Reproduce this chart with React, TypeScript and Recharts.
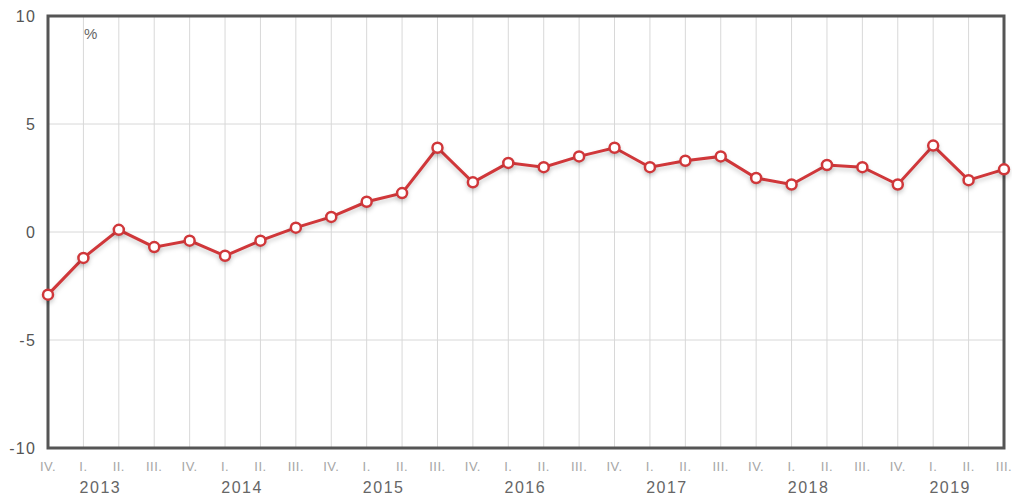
import React from 'react';
import { LineChart, Line, XAxis, YAxis, CartesianGrid, ReferenceArea } from 'recharts';

const quarters = ['IV.', 'I.', 'II.', 'III.', 'IV.', 'I.', 'II.', 'III.', 'IV.', 'I.', 'II.', 'III.', 'IV.', 'I.', 'II.', 'III.', 'IV.', 'I.', 'II.', 'III.', 'IV.', 'I.', 'II.', 'III.', 'IV.', 'I.', 'II.', 'III.'];
const years = ['2012', '2013', '2013', '2013', '2013', '2014', '2014', '2014', '2014', '2015', '2015', '2015', '2015', '2016', '2016', '2016', '2016', '2017', '2017', '2017', '2017', '2018', '2018', '2018', '2018', '2019', '2019', '2019'];
const values = [-2.9, -1.2, 0.1, -0.7, -0.4, -1.1, -0.4, 0.2, 0.7, 1.4, 1.8, 3.9, 2.3, 3.2, 3.0, 3.5, 3.9, 3.0, 3.3, 3.5, 2.5, 2.2, 3.1, 3.0, 2.2, 4.0, 2.4, 2.9];
const yTicks = [-10, -5, 0, 5, 10];
const unitLabel = '%';

const data = quarters.map((q, i) => ({ key: `${years[i]}|${q}|${i}`, value: values[i] }));

const FONT = '"Liberation Sans", Arial, sans-serif';

const XTick = (props: any) => {
  const { x, y, payload } = props;
  const [year, q] = String(payload.value).split('|');
  return (
    <g>
      <text x={x} y={y + 23} textAnchor="middle" fontSize={13} fill="#a6a6a6" fontFamily={FONT} letterSpacing={0.5}>{q}</text>
      {q === 'I.' && (
        <text x={x + 17} y={y + 45} textAnchor="middle" fontSize={16} fill="#666" fontFamily={FONT} letterSpacing={1.5}>{year}</text>
      )}
    </g>
  );
};

export default function App() {
  return (
    <div style={{ position: 'relative', width: 1012, height: 497 }}>
      <style>{`body{margin:0}`}</style>
      <LineChart
        width={1012}
        height={497}
        data={data}
        margin={{ top: 16, right: 8, bottom: 0, left: 0 }}
        style={{ overflow: 'visible' }}
      >
        <CartesianGrid stroke="#d8d8d8" strokeWidth={1} />
        <XAxis
          dataKey="key"
          interval={0}
          tick={<XTick />}
          tickLine={false}
          axisLine={false}
          tickSize={0}
          tickMargin={0}
          height={49}
        />
        <YAxis
          domain={[-10, 10]}
          ticks={yTicks}
          width={48}
          tickLine={false}
          axisLine={false}
          tickSize={0}
          tickMargin={12}
          tick={{ fontSize: 16, fill: '#555', fontFamily: FONT, letterSpacing: 1.2 }}
        />
        <ReferenceArea
          x1={data[0].key}
          x2={data[data.length - 1].key}
          y1={-10}
          y2={10}
          fill="none"
          fillOpacity={0}
          stroke="#555"
          strokeWidth={3}
          ifOverflow="visible"
        />
        <Line
          type="linear"
          dataKey="value"
          stroke="#d0373a"
          strokeWidth={3}
          dot={{ r: 5, fill: '#fff', stroke: '#d0373a', strokeWidth: 2.5 }}
          activeDot={false}
          isAnimationActive={false}
          style={{ filter: 'drop-shadow(0px 3px 2px rgba(0,0,0,0.18))' }}
        />
      </LineChart>
      <span style={{ position: 'absolute', left: 84, top: 25, fontSize: 15, color: '#666', fontFamily: FONT }}>{unitLabel}</span>
    </div>
  );
}
